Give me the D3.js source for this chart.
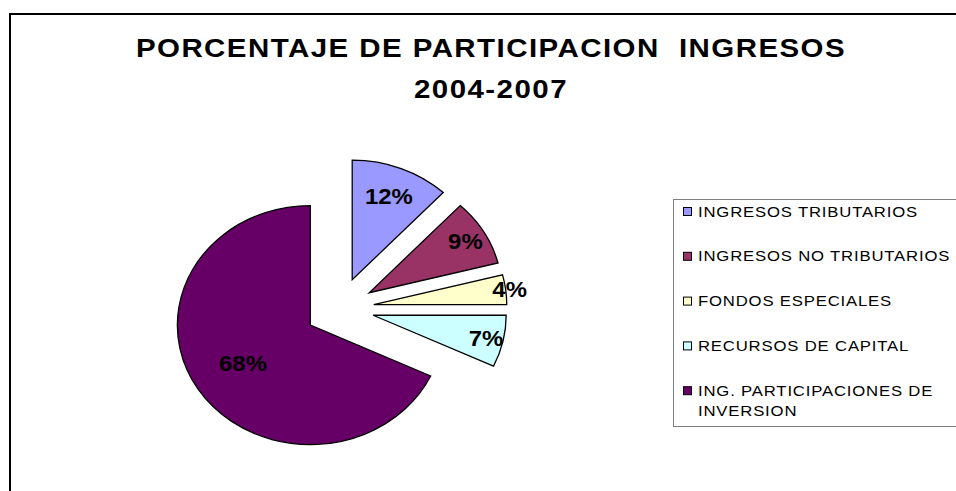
<!DOCTYPE html>
<html>
<head>
<meta charset="utf-8">
<script src="https://cdn.jsdelivr.net/npm/d3@7"></script>
<style>
  body { margin: 0; background: #fff; }
  text { font-family: Arial, "Liberation Sans", sans-serif; }
</style>
</head>
<body>
<div id="chart-area"></div>
<script>
// data
var categories = ['INGRESOS TRIBUTARIOS', 'INGRESOS NO TRIBUTARIOS', 'FONDOS ESPECIALES',
    'RECURSOS DE CAPITAL', 'ING. PARTICIPACIONES DE INVERSION']
var values = [12, 9, 4, 7, 68]
var colors = ['#9999FF', '#993366', '#FFFFCC', '#CCFFFF', '#660066']
var titleLines = ['PORCENTAJE DE PARTICIPACION  INGRESOS', '2004-2007']

var width = 956
var height = 491

// the source image is stretched horizontally, so everything gets sx
var sx = 1.113
var cx = 339.5, cy = 308.5
var radius = 119.5
var explode = 31
var labelFrac = [0.75, 0.84, 1.03, 0.87, 0.6]

var svg = d3.select('#chart-area')
    .append('svg')
        .attr('width', width)
        .attr('height', height)

// outer frame
svg.append('rect')
    .attr('x', 10)
    .attr('y', 14)
    .attr('width', 960)
    .attr('height', 500)
    .attr('fill', 'none')
    .attr('stroke', '#000')
    .attr('stroke-width', 2)

// stretched text layer
var tg = svg.append('g')
    .attr('transform', `scale(${sx}, 1)`)

// title
tg.selectAll('.title')
    .data(titleLines)
    .enter().append('text')
        .attr('class', 'title')
        .attr('x', 491 / sx)
        .attr('y', (d, i) => 57 + i * 41)
        .attr('text-anchor', 'middle')
        .attr('font-size', '26.5px')
        .attr('font-weight', 'bold')
        .attr('letter-spacing', '1.3px')
        .style('white-space', 'pre')
        .text(d => d)

var pie = d3.pie().sort(null).value(d => d)
var arc = d3.arc().innerRadius(0).outerRadius(radius)
var arcs = pie(values)

function mid (d) { return (d.startAngle + d.endAngle) / 2 }
function apex (d) {
    var a = mid(d)
    return [cx + explode * sx * Math.sin(a), cy - explode * Math.cos(a)]
}

// slices
svg.selectAll('.slice')
    .data(arcs)
    .enter().append('path')
        .attr('class', 'slice')
        .attr('transform', d => {
            var p = apex(d)
            return `translate(${p[0]}, ${p[1]}) scale(${sx}, 1)`
        })
        .attr('d', arc)
        .attr('fill', (d, i) => colors[i])
        .attr('stroke', '#000')
        .attr('stroke-width', 1.3)
        .attr('vector-effect', 'non-scaling-stroke')

// slice labels
var pctLayer = svg.append('g')
    .attr('transform', `scale(${sx}, 1)`)

pctLayer.selectAll('.pct')
    .data(arcs)
    .enter().append('text')
        .attr('class', 'pct')
        .attr('x', (d, i) => (apex(d)[0] + labelFrac[i] * radius * sx * Math.sin(mid(d))) / sx)
        .attr('y', (d, i) => apex(d)[1] - labelFrac[i] * radius * Math.cos(mid(d)))
        .attr('dy', '0.36em')
        .attr('text-anchor', 'middle')
        .attr('font-size', '21.5px')
        .attr('font-weight', 'bold')
        .text(d => d.value + '%')

// legend
var legend = svg.append('g')
    .attr('transform', 'translate(673, 199)')

legend.append('rect')
    .attr('x', 0.5)
    .attr('y', 0.5)
    .attr('width', 300)
    .attr('height', 227)
    .attr('fill', '#fff')
    .attr('stroke', '#808080')
    .attr('stroke-width', 1)

var items = legend.selectAll('.item')
    .data(categories)
    .enter().append('g')
        .attr('class', 'item')
        .attr('transform', (d, i) => `translate(0, ${12 + i * 44.8})`)

items.append('rect')
    .attr('x', 10.5)
    .attr('y', -3.5)
    .attr('width', 8)
    .attr('height', 8)
    .attr('fill', (d, i) => colors[i])
    .attr('stroke', '#000')
    .attr('stroke-width', 1)

items.append('text')
    .attr('transform', `scale(${sx}, 1)`)
    .attr('y', 5.5)
    .attr('font-size', '15px')
    .attr('letter-spacing', '0.75px')
    .each(function (d) {
        var lines = d === 'ING. PARTICIPACIONES DE INVERSION'
            ? ['ING. PARTICIPACIONES DE', 'INVERSION'] : [d]
        d3.select(this).selectAll('tspan')
            .data(lines)
            .enter().append('tspan')
                .attr('x', 25 / sx)
                .attr('dy', (l, j) => j === 0 ? 0 : 20)
                .text(l => l)
    })
</script>
</body>
</html>
